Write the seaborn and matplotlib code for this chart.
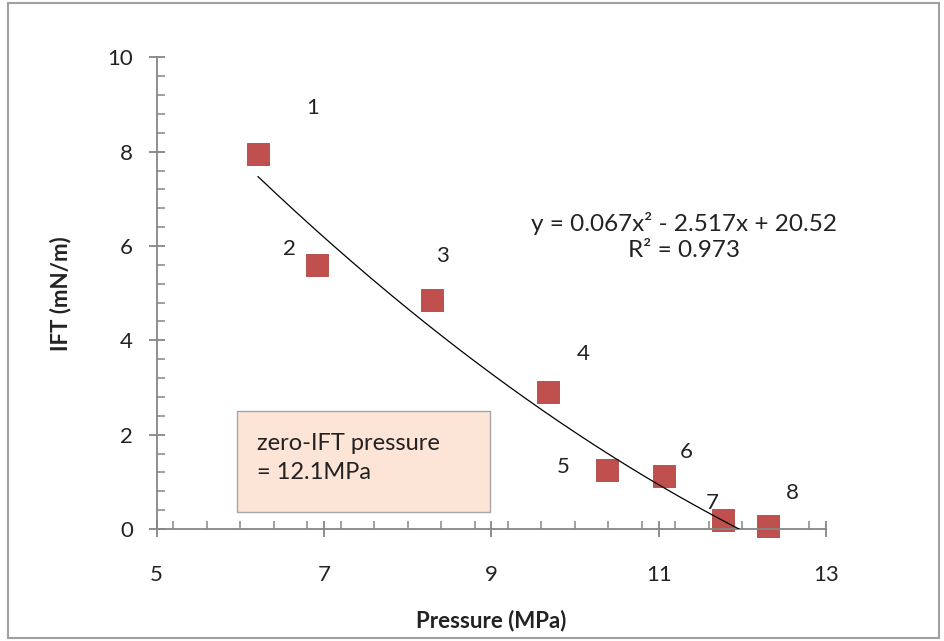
import matplotlib
matplotlib.use("Agg")
import matplotlib.pyplot as plt
import seaborn as sns
import numpy as np
import pandas as pd
from matplotlib.patches import Rectangle
from matplotlib.ticker import MultipleLocator

# ---- data ----
pressure = [6.21, 6.92, 8.29, 9.68, 10.38, 11.07, 11.77, 12.31]
ift = [7.95, 5.59, 4.85, 2.90, 1.25, 1.12, 0.19, 0.06]
point_labels = ["1", "2", "3", "4", "5", "6", "7", "8"]
label_offsets_px = [(55, 46), (-28, 16), (11, 44), (35, 38), (-44, 3), (22, 24), (-11, 17), (24, 33)]
trend_coeffs = [0.067, -2.517, 20.52]
eq_text = "y = 0.067x² - 2.517x + 20.52\nR² = 0.973"
box_text = "zero-IFT pressure\n= 12.1MPa"
x_ticks = [5, 7, 9, 11, 13]
y_ticks = [0, 2, 4, 6, 8, 10]

sns.set_theme(style="white")
plt.rcParams['font.family'] = ['Lato', 'DejaVu Sans']

fig = plt.figure(figsize=(9.45, 6.41), dpi=100)
ax = fig.add_axes([0.1658, 0.1747, 0.874 - 0.1658, 0.9106 - 0.1747])

df = pd.DataFrame({"Pressure": pressure, "IFT": ift})
xs = np.linspace(min(pressure), max(pressure), 300)
ys = np.polyval(trend_coeffs, xs)
ax.plot(xs, ys, color="black", lw=0.9, zorder=3)
sns.scatterplot(data=df, x="Pressure", y="IFT", marker="s", s=250, color="#C0504D",
                edgecolor="#B04542", linewidth=0.6, ax=ax, zorder=2, clip_on=False)

for x, y, lab, (dx, dy) in zip(pressure, ift, point_labels, label_offsets_px):
    ax.annotate(lab, (x, y), xytext=(dx, dy), textcoords="offset pixels",
                ha="center", va="center", fontsize=16, color="#222222", zorder=4)

ax.text(11.3, 6.2, eq_text, ha="center", va="center", fontsize=17.5,
        color="#222222", linespacing=1.25)

ax.add_patch(Rectangle((5.96, 0.36), 3.03, 2.14, facecolor="#FCE4D6",
                       edgecolor="#A6A6A6", lw=1.0, zorder=1))
ax.text(6.2, 1.5, box_text, ha="left", va="center", fontsize=17,
        color="#222222", linespacing=1.45, zorder=2)

ax.set_xlim(5, 13)
ax.set_ylim(0, 10)
ax.set_xticks(x_ticks)
ax.set_yticks(y_ticks)
ax.xaxis.set_minor_locator(MultipleLocator(0.4))
ax.yaxis.set_minor_locator(MultipleLocator(0.4))
for s in ["top", "right"]:
    ax.spines[s].set_visible(False)
for s in ["left", "bottom"]:
    ax.spines[s].set_color("#868686")
    ax.spines[s].set_linewidth(1.3)
ax.tick_params(which="major", direction="inout", length=12, width=1.3, color="#868686",
               labelsize=16, labelcolor="#222222")
ax.tick_params(axis="x", which="major", pad=20)
ax.tick_params(axis="y", which="major", pad=11)
ax.tick_params(which="minor", direction="in", length=6, width=1.1, color="#868686")
ax.xaxis.set_tick_params(which="both", bottom=True)
ax.yaxis.set_tick_params(which="both", left=True)

ax.set_xlabel("Pressure (MPa)", fontsize=16, fontweight="bold", color="#222222", labelpad=18)
ax.set_ylabel("IFT (mN/m)", fontsize=16, fontweight="bold", color="#222222", labelpad=26)

fig.patches.append(Rectangle((0.008, 0.004), 0.986, 0.992, transform=fig.transFigure,
                             fill=False, edgecolor="#A0A0A0", lw=1.5))

fig.savefig("out.png", dpi=100)
